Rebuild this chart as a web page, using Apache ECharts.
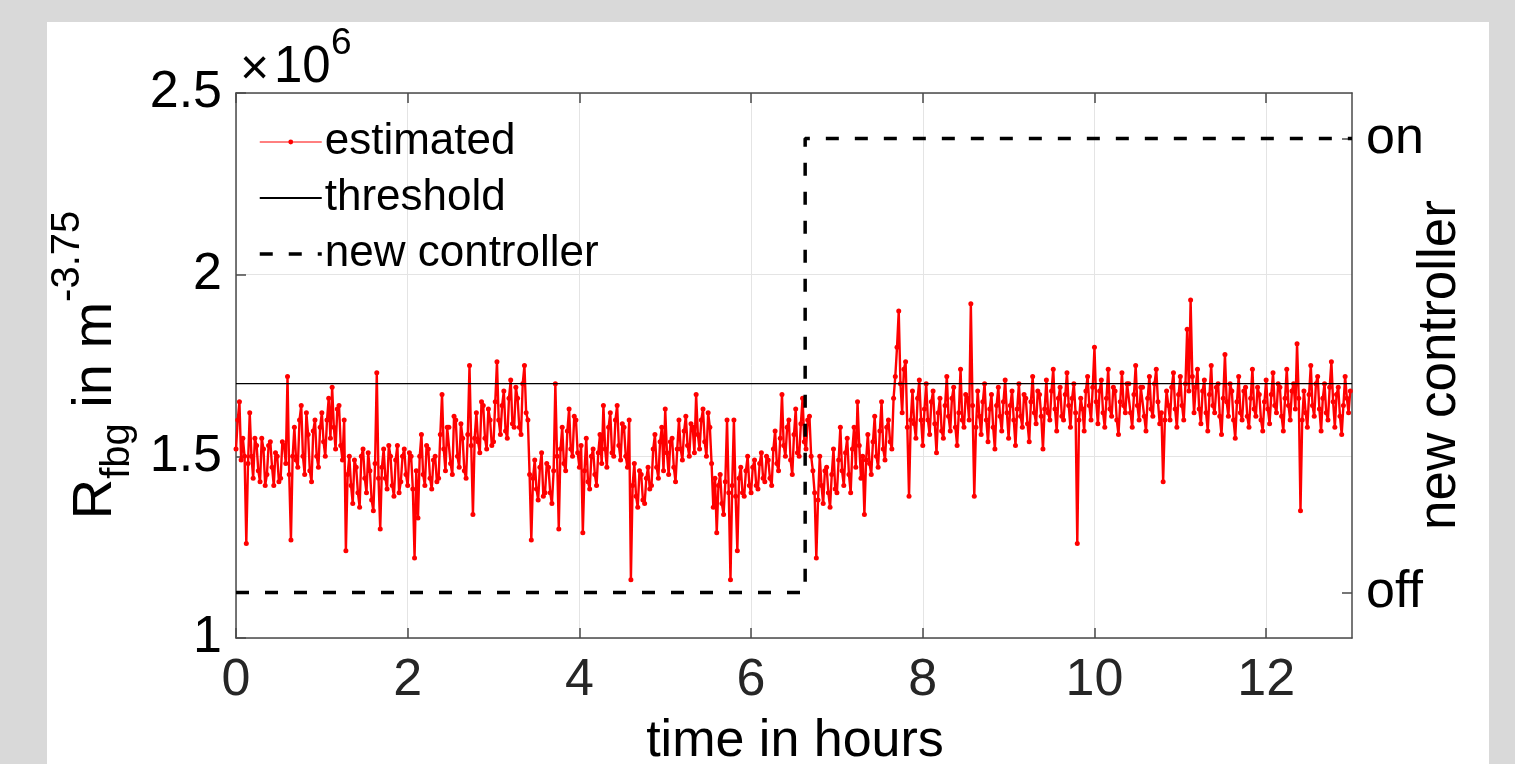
<!DOCTYPE html>
<html>
<head>
<meta charset="utf-8">
<script src="https://cdn.jsdelivr.net/npm/echarts@6/dist/echarts.min.js"></script>
<style>
  html, body { margin: 0; padding: 0; background: #d9d9d9; }
  #chart { width: 1515px; height: 764px; }
</style>
</head>
<body>
<div id="chart"></div>
<script>
// sample spacing of the estimate, hours
const sampleStep = 0.02;

// estimated R_fbg (x10^6 m^-3.75), one row per hour, 50 samples each
const estimated = [
  1.52,1.60,1.65,1.49,1.55,1.50,1.26,1.48,1.62,1.50,1.44,1.55,1.53,1.46,1.43,1.55,1.52,1.42,1.45,1.53,1.54,1.47,1.42,1.51,1.50,1.43,1.44,1.54,1.53,1.48,1.72,1.45,1.27,1.50,1.58,1.49,1.47,1.60,1.64,1.50,1.45,1.62,1.56,1.46,1.43,1.57,1.60,1.50,1.47,1.58,
  1.62,1.54,1.50,1.60,1.66,1.55,1.69,1.58,1.52,1.63,1.64,1.53,1.49,1.60,1.24,1.45,1.50,1.42,1.37,1.49,1.47,1.40,1.36,1.50,1.52,1.44,1.40,1.51,1.46,1.38,1.35,1.48,1.73,1.44,1.30,1.47,1.52,1.44,1.41,1.53,1.50,1.42,1.39,1.49,1.53,1.40,1.43,1.50,1.52,1.45,
  1.42,1.51,1.50,1.41,1.22,1.46,1.33,1.50,1.56,1.45,1.42,1.53,1.52,1.44,1.41,1.49,1.50,1.43,1.44,1.56,1.67,1.52,1.46,1.58,1.58,1.48,1.45,1.61,1.60,1.50,1.47,1.59,1.55,1.46,1.44,1.56,1.75,1.53,1.34,1.55,1.62,1.54,1.51,1.65,1.64,1.55,1.52,1.63,1.60,1.53,
  1.54,1.65,1.76,1.60,1.56,1.64,1.68,1.57,1.55,1.66,1.71,1.59,1.58,1.69,1.66,1.58,1.56,1.70,1.75,1.62,1.60,1.45,1.27,1.44,1.49,1.41,1.38,1.47,1.51,1.39,1.40,1.48,1.47,1.40,1.37,1.46,1.70,1.50,1.30,1.52,1.58,1.48,1.46,1.57,1.63,1.52,1.50,1.61,1.60,1.51,
  1.47,1.53,1.29,1.46,1.55,1.43,1.41,1.50,1.52,1.45,1.42,1.51,1.56,1.48,1.64,1.52,1.47,1.58,1.62,1.51,1.50,1.60,1.64,1.53,1.49,1.59,1.58,1.50,1.47,1.60,1.16,1.42,1.48,1.39,1.36,1.46,1.45,1.38,1.37,1.44,1.47,1.41,1.42,1.52,1.56,1.47,1.44,1.54,1.58,1.46,
  1.63,1.51,1.45,1.54,1.55,1.47,1.43,1.52,1.60,1.52,1.49,1.57,1.61,1.53,1.50,1.59,1.58,1.51,1.67,1.56,1.52,1.60,1.63,1.54,1.50,1.62,1.58,1.48,1.36,1.44,1.29,1.42,1.45,1.37,1.34,1.43,1.60,1.40,1.16,1.42,1.60,1.39,1.24,1.44,1.47,1.40,1.39,1.46,1.50,1.42,
  1.40,1.47,1.49,1.42,1.41,1.48,1.51,1.44,1.43,1.50,1.49,1.44,1.42,1.52,1.57,1.48,1.46,1.55,1.67,1.53,1.50,1.58,1.60,1.49,1.45,1.56,1.63,1.51,1.50,1.59,1.66,1.54,1.52,1.60,1.61,1.50,1.46,1.40,1.22,1.38,1.50,1.42,1.37,1.46,1.47,1.40,1.36,1.45,1.52,1.41,
  1.40,1.49,1.58,1.46,1.42,1.51,1.55,1.45,1.40,1.52,1.58,1.47,1.65,1.53,1.44,1.50,1.34,1.49,1.56,1.48,1.45,1.54,1.61,1.50,1.47,1.57,1.65,1.52,1.49,1.58,1.60,1.54,1.52,1.66,1.72,1.80,1.90,1.70,1.62,1.74,1.76,1.58,1.39,1.60,1.68,1.59,1.55,1.66,1.71,1.60,
  1.53,1.63,1.70,1.60,1.56,1.65,1.68,1.59,1.51,1.62,1.66,1.57,1.55,1.64,1.72,1.61,1.57,1.66,1.69,1.58,1.53,1.62,1.74,1.60,1.58,1.67,1.66,1.60,1.92,1.64,1.39,1.58,1.68,1.61,1.56,1.65,1.70,1.60,1.54,1.63,1.67,1.58,1.52,1.64,1.69,1.61,1.57,1.65,1.71,1.62,
  1.55,1.64,1.68,1.60,1.53,1.63,1.70,1.61,1.58,1.67,1.66,1.59,1.54,1.65,1.72,1.62,1.59,1.68,1.67,1.61,1.52,1.63,1.71,1.62,1.60,1.68,1.74,1.63,1.57,1.66,1.69,1.61,1.60,1.67,1.73,1.64,1.58,1.66,1.70,1.62,1.26,1.60,1.66,1.63,1.57,1.68,1.72,1.64,1.60,1.69,
  1.80,1.65,1.59,1.68,1.71,1.62,1.58,1.66,1.74,1.63,1.61,1.69,1.68,1.60,1.56,1.65,1.73,1.64,1.62,1.70,1.70,1.62,1.58,1.67,1.75,1.64,1.60,1.69,1.69,1.61,1.57,1.66,1.72,1.63,1.61,1.70,1.74,1.65,1.59,1.62,1.43,1.60,1.68,1.64,1.60,1.69,1.73,1.63,1.58,1.67,
  1.72,1.64,1.60,1.70,1.85,1.68,1.93,1.72,1.62,1.69,1.74,1.63,1.59,1.68,1.71,1.62,1.57,1.67,1.75,1.64,1.62,1.69,1.70,1.61,1.56,1.66,1.78,1.65,1.61,1.70,1.68,1.60,1.55,1.65,1.72,1.62,1.60,1.68,1.69,1.61,1.58,1.66,1.74,1.63,1.61,1.69,1.67,1.60,1.57,1.65,
  1.71,1.63,1.59,1.67,1.73,1.64,1.62,1.70,1.69,1.61,1.57,1.66,1.74,1.64,1.60,1.68,1.70,1.63,1.81,1.66,1.35,1.60,1.68,1.62,1.58,1.67,1.75,1.64,1.61,1.70,1.72,1.63,1.57,1.66,1.70,1.62,1.60,1.69,1.76,1.65,1.58,1.67,1.69,1.61,1.56,1.64,1.72,1.66,1.62,1.68
];

const thresholdValue = 1.7;
const thresholdSpan = [0, 13];

// controller state: 0 = off, 1 = on
const controllerHours = [0, 6.63, 6.63, 13];
const controllerState = [0, 0, 1, 1];

const xTicks = [0, 2, 4, 6, 8, 10, 12];
const stateLabels = { 0: 'off', 1: 'on' };

const estimatedPoints = estimated.map((v, i) => [+(i * sampleStep).toFixed(2), v]);
const thresholdPoints = thresholdSpan.map(h => [h, thresholdValue]);
const controllerPoints = controllerHours.map((h, i) => [h, controllerState[i]]);

const font = 'Liberation Sans, Arial, Helvetica, sans-serif';
const frame = '#4a4a4a';
const gridColor = '#e4e4e4';

const chart = echarts.init(document.getElementById('chart'));
chart.setOption({
  animation: false,
  backgroundColor: '#d9d9d9',
  textStyle: { fontFamily: font },
  grid: { left: 236, right: 163, top: 93, bottom: 126 },
  graphic: [
    { type: 'rect', z: -10, silent: true, shape: { x: 47, y: 22, width: 1442, height: 760 }, style: { fill: '#ffffff' } },
    { type: 'text', left: 240, top: 45, style: { text: '\u00d7', font: '50px ' + font, fill: '#000' } },
    { type: 'text', left: 274, top: 42, style: { text: '10', font: '51px ' + font, fill: '#000' } },
    { type: 'text', left: 331, top: 25, style: { text: '6', font: '37px ' + font, fill: '#000' } },
    { type: 'text', x: 795, y: 742, style: { text: 'time in hours', font: '52px ' + font, fill: '#000', align: 'center', verticalAlign: 'middle' } },
    { type: 'text', x: 1440, y: 365, rotation: Math.PI / 2, style: { text: 'new controller', font: '53px ' + font, fill: '#000', align: 'center', verticalAlign: 'middle' } },
    {
      type: 'text', x: 96, y: 365, rotation: Math.PI / 2,
      style: {
        text: '{m|R}{s|fbg}{m| in m}{p|-3.75}',
        align: 'center', verticalAlign: 'middle', fill: '#000',
        rich: {
          m: { fontSize: 56, fontFamily: font, lineHeight: 100, verticalAlign: 'middle' },
          s: { fontSize: 40, fontFamily: font, lineHeight: 100, verticalAlign: 'bottom', padding: [0, 0, 8, 0] },
          p: { fontSize: 40, fontFamily: font, lineHeight: 100, verticalAlign: 'top', padding: [2, 0, 0, 0] }
        }
      }
    }
  ],
  legend: {
    orient: 'vertical',
    left: 258, top: 117,
    padding: 0,
    itemWidth: 62, itemHeight: 6, itemGap: 6,
    textStyle: { fontSize: 44, fontFamily: font, color: '#000', lineHeight: 50, padding: [0, 0, 0, -2] },
    data: [
      { name: 'estimated', lineStyle: { width: 1 } },
      { name: 'threshold', itemStyle: { opacity: 0 } },
      { name: 'new controller', itemStyle: { opacity: 0 }, lineStyle: { width: 3.5 } }
    ]
  },
  xAxis: [
    {
      type: 'value', min: 0, max: 13, interval: 2,
      axisLine: { onZero: false, lineStyle: { color: frame, width: 1.5 } },
      axisTick: { inside: true, length: 10, lineStyle: { color: frame, width: 1.5 }, customValues: xTicks },
      axisLabel: { fontSize: 52, color: '#262626', margin: 17, customValues: xTicks },
      splitLine: { show: true, lineStyle: { color: gridColor, width: 1 } }
    },
    {
      type: 'value', position: 'top', min: 0, max: 13, interval: 2,
      axisLine: { onZero: false, lineStyle: { color: frame, width: 1.5 } },
      axisTick: { inside: true, length: 10, lineStyle: { color: frame, width: 1.5 }, customValues: xTicks },
      axisLabel: { show: false },
      splitLine: { show: false }
    }
  ],
  yAxis: [
    {
      type: 'value', min: 1, max: 2.5, interval: 0.5,
      axisLine: { show: true, onZero: false, lineStyle: { color: frame, width: 1.5 } },
      axisTick: { show: true, inside: true, length: 10, lineStyle: { color: frame, width: 1.5 } },
      axisLabel: { fontSize: 52, color: '#000', margin: 14 },
      splitLine: { show: true, lineStyle: { color: gridColor, width: 1 } }
    },
    {
      type: 'value', position: 'right', min: -0.1, max: 1.1,
      axisLine: { show: true, onZero: false, lineStyle: { color: frame, width: 1.5 } },
      axisTick: { show: true, inside: true, length: 10, lineStyle: { color: frame, width: 1.5 }, customValues: [0, 1] },
      axisLabel: { fontSize: 52, color: '#000', margin: 14, customValues: [0, 1], formatter: v => stateLabels[Math.round(v)] },
      splitLine: { show: false }
    }
  ],
  series: [
    {
      name: 'estimated', type: 'line', data: estimatedPoints,
      symbol: 'circle', symbolSize: 5, showSymbol: true, showAllSymbol: true,
      lineStyle: { color: '#ff0000', width: 2.4 },
      itemStyle: { color: '#ff0000' },
      z: 3
    },
    {
      name: 'threshold', type: 'line', data: thresholdPoints,
      symbol: 'none', lineStyle: { color: '#000', width: 1.3 },
      itemStyle: { color: '#000' },
      z: 4
    },
    {
      name: 'new controller', type: 'line', yAxisIndex: 1, data: controllerPoints,
      symbol: 'none',
      lineStyle: { color: '#000', width: 3.5, type: [13, 16] },
      itemStyle: { color: '#000' },
      z: 5
    }
  ]
});
</script>
</body>
</html>
